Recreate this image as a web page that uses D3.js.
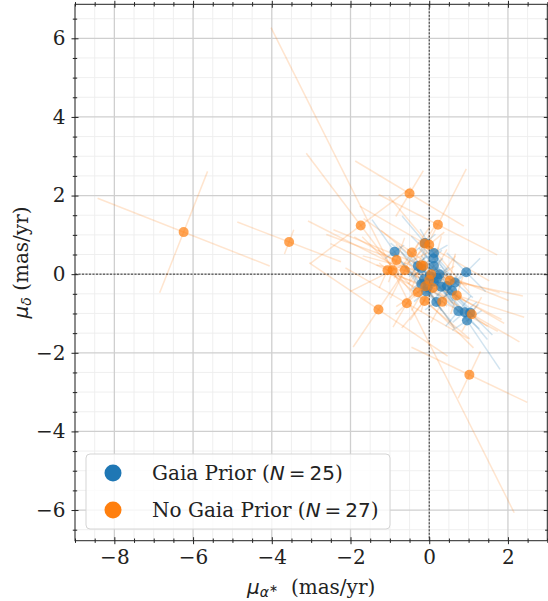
<!DOCTYPE html>
<html>
<head>
<meta charset="utf-8">
<script src="https://cdn.jsdelivr.net/npm/d3@7"></script>
<style>
  body { margin: 0; background: #fff; }
  svg { display: block; }
</style>
</head>
<body>
<svg id="chart" width="548" height="601"></svg>
<script>
// Proper motions (mas/yr) with error-ellipse principal axes:
// a = semi-major length, b = semi-minor length, ang = major-axis angle (deg, data space)
const gaiaX   = [-0.88, -0.11, 0.12, 0.11, -0.29, 0.12, 0.94, 0.26, -0.13, 0.12, 0.30, 0.65, 0.58, -0.04, -0.08, 0.18, 0.74, 0.90, 1.04, 0.96, -0.20, 0.02, 0.20, 0.45, -0.20];
const gaiaY   = [0.57, 0.79, 0.54, 0.40, 0.21, 0.21, 0.05, 0.00, -0.13, -0.19, -0.32, -0.21, -0.42, -0.33, -0.44, -0.71, -0.94, -0.97, -0.98, -1.18, 0.15, -0.05, -0.10, -0.30, -0.25];
const gaiaA   = [1.0, 0.9, 0.7, 0.8, 0.9, 0.6, 0.7, 0.8, 0.9, 0.7, 0.8, 0.6, 0.9, 0.7, 1.0, 0.8, 0.7, 0.9, 0.8, 1.5, 0.8, 0.9, 0.7, 0.8, 0.7];
const gaiaB   = [0.30, 0.35, 0.40, 0.30, 0.35, 0.30, 0.50, 0.30, 0.40, 0.30, 0.35, 0.40, 0.30, 0.30, 0.40, 0.35, 0.50, 0.40, 0.30, 0.45, 0.30, 0.35, 0.30, 0.40, 0.30];
const gaiaAng = [-55, -50, -60, -45, -40, -50, -45, -55, -50, -45, -55, -40, -50, -60, -50, -55, -40, -50, -45, -56, -45, -50, -55, -45, -50];

const noGaiaX   = [-6.24, -3.56, -1.74, -0.50, 0.22, 1.02, -1.29, -0.57, -0.12, 0.33, 1.08, 0.70, 0.52, -0.29, 0.09, -0.10, -1.06, -0.93, -0.62, -0.83, -0.44, -0.12, 0.00, -0.21, 0.05, -0.15, 0.00];
const noGaiaY   = [1.07, 0.82, 1.24, 2.05, 1.26, -2.56, -0.90, -0.74, -0.68, -0.70, -1.02, -0.54, -0.16, -0.46, -0.35, -0.31, 0.10, 0.10, 0.10, 0.36, 0.55, 0.78, 0.75, 0.23, 0.00, 0.21, -0.15];
const noGaiaA   = [2.35, 1.41, 2.30, 1.61, 1.69, 1.63, 2.12, 1.80, 1.50, 1.60, 1.40, 1.80, 1.90, 2.00, 1.70, 1.30, 1.60, 6.90, 2.76, 1.90, 1.50, 1.90, 1.60, 2.40, 1.80, 1.40, 2.20];
const noGaiaB   = [1.66, 0.33, 1.60, 0.68, 1.59, 0.66, 1.15, 0.70, 0.90, 0.60, 0.50, 0.50, 0.70, 0.80, 1.00, 0.90, 0.50, 1.20, 0.80, 0.60, 0.80, 0.60, 0.50, 0.70, 1.00, 0.60, 0.90];
const noGaiaAng = [-21.5, -21, -53, -31, -27, -25.5, -34, -30, -40, -28, -30, -18, -12, -45, -35, -55, -25, -63.4, -27, -20, -35, -30, -50, -22, -15, -40, -30];

const seriesNames = ["Gaia Prior", "No Gaia Prior"];
const seriesColors = ["#1f77b4", "#ff7f0e"];

const xMajor = [-8, -6, -4, -2, 0, 2];
const yMajor = [-6, -4, -2, 0, 2, 4, 6];
const xDomain = [-9, 3];
const yDomain = [-6.78, 6.865];

const svg = d3.select("#chart");
const L = 75, R = 547.3, T = 4.3, B = 540.7;

const x = d3.scaleLinear().domain(xDomain).range([L, R]);
const y = d3.scaleLinear().domain(yDomain).range([B, T]);

const xMinor = d3.range(-9, 3.001, 0.5).filter(v => !xMajor.includes(v));
const yMinor = d3.range(-6.5, 6.801, 0.5).filter(v => !yMajor.includes(v));

svg.append("defs").append("clipPath").attr("id", "plotclip")
  .append("rect").attr("x", L).attr("y", T).attr("width", R - L).attr("height", B - T);

// grid
const grid = svg.append("g");
grid.selectAll(".gxm").data(xMinor).join("line")
  .attr("x1", d => x(d)).attr("x2", d => x(d)).attr("y1", T).attr("y2", B)
  .attr("stroke", "#ededed").attr("stroke-width", 0.9);
grid.selectAll(".gym").data(yMinor).join("line")
  .attr("y1", d => y(d)).attr("y2", d => y(d)).attr("x1", L).attr("x2", R)
  .attr("stroke", "#ededed").attr("stroke-width", 0.9);
grid.selectAll(".gxM").data(xMajor).join("line")
  .attr("x1", d => x(d)).attr("x2", d => x(d)).attr("y1", T).attr("y2", B)
  .attr("stroke", "#cfcfcf").attr("stroke-width", 1.3);
grid.selectAll(".gyM").data(yMajor).join("line")
  .attr("y1", d => y(d)).attr("y2", d => y(d)).attr("x1", L).attr("x2", R)
  .attr("stroke", "#cfcfcf").attr("stroke-width", 1.3);

// zero reference lines
svg.append("line").attr("x1", x(0)).attr("x2", x(0)).attr("y1", T).attr("y2", B)
  .attr("stroke", "#333").attr("stroke-width", 1).attr("stroke-dasharray", "2,1.5");
svg.append("line").attr("y1", y(0)).attr("y2", y(0)).attr("x1", L).attr("x2", R)
  .attr("stroke", "#333").attr("stroke-width", 1).attr("stroke-dasharray", "2,1.5");

// build per-series records
function records(xs, ys, as, bs, angs) {
  return xs.map((v, i) => ({ x: v, y: ys[i], a: as[i], b: bs[i], ang: angs[i] * Math.PI / 180 }));
}
const series = [
  records(gaiaX, gaiaY, gaiaA, gaiaB, gaiaAng),
  records(noGaiaX, noGaiaY, noGaiaA, noGaiaB, noGaiaAng)
];

// axis segments of each error ellipse (major and minor)
function segments(d) {
  const c = Math.cos(d.ang), s = Math.sin(d.ang);
  return [
    [d.x - d.a * c, d.y - d.a * s, d.x + d.a * c, d.y + d.a * s],
    [d.x + d.b * s, d.y - d.b * c, d.x - d.b * s, d.y + d.b * c]
  ];
}

const plot = svg.append("g").attr("clip-path", "url(#plotclip)");

[1, 0].forEach(k => {
  plot.append("g").selectAll("line")
    .data(series[k].flatMap(segments)).join("line")
    .attr("x1", s => x(s[0])).attr("y1", s => y(s[1]))
    .attr("x2", s => x(s[2])).attr("y2", s => y(s[3]))
    .attr("stroke", seriesColors[k]).attr("stroke-opacity", 0.2)
    .attr("stroke-width", 1.5);
});
[0, 1].forEach(k => {
  plot.append("g").selectAll("circle")
    .data(series[k]).join("circle")
    .attr("cx", d => x(d.x)).attr("cy", d => y(d.y)).attr("r", 5)
    .attr("fill", seriesColors[k]).attr("fill-opacity", 0.7);
});

const serif = "'DejaVu Serif', serif", sans = "'DejaVu Sans', sans-serif";

// axes: ticks cross the frame (in and out)
function addAxis(gen, scale, vals, size, tx, ty, labels) {
  const g = svg.append("g").attr("transform", `translate(${tx},${ty})`)
    .call(gen(scale).tickValues(vals).tickSize(size).tickPadding(labels ? 6 : 0)
      .tickFormat(labels ? (d => d3.format("")(d).replace("-", "\u2212")) : ""));
  g.attr("font-family", null).attr("font-size", null);
  g.select(".domain").remove();
  g.selectAll(".tick line").attr("stroke", "#222").attr("stroke-width", 1);
  g.selectAll(".tick text")
    .style("font-family", serif).style("font-size", "20px").style("fill", "#222");
  return g;
}
const maj = 3.5, mnr = 2.2;
// bottom
addAxis(d3.axisBottom, x, xMajor, maj, 0, B, true).selectAll(".tick text").attr("dy", "0.71em");
addAxis(d3.axisBottom, x, xMajor, -maj, 0, B, false);
addAxis(d3.axisBottom, x, xMinor, mnr, 0, B, false);
addAxis(d3.axisBottom, x, xMinor, -mnr, 0, B, false);
// top
addAxis(d3.axisTop, x, xMajor, maj, 0, T, false);
addAxis(d3.axisTop, x, xMajor, -maj, 0, T, false);
addAxis(d3.axisTop, x, xMinor, mnr, 0, T, false);
addAxis(d3.axisTop, x, xMinor, -mnr, 0, T, false);
// left
addAxis(d3.axisLeft, y, yMajor, maj, L, 0, true);
addAxis(d3.axisLeft, y, yMajor, -maj, L, 0, false);
addAxis(d3.axisLeft, y, yMinor, mnr, L, 0, false);
addAxis(d3.axisLeft, y, yMinor, -mnr, L, 0, false);
// right
addAxis(d3.axisRight, y, yMajor, maj, R, 0, false);
addAxis(d3.axisRight, y, yMajor, -maj, R, 0, false);
addAxis(d3.axisRight, y, yMinor, mnr, R, 0, false);
addAxis(d3.axisRight, y, yMinor, -mnr, R, 0, false);

// frame
svg.append("rect").attr("x", L).attr("y", T).attr("width", R - L).attr("height", B - T)
  .attr("fill", "none").attr("stroke", "#222").attr("stroke-width", 1);

// axis labels
const xl = svg.append("text").attr("x", (L + R) / 2).attr("y", 594)
  .attr("text-anchor", "middle").style("font-size", "20px").attr("fill", "#222");
xl.append("tspan").style("font-family", sans).style("font-style", "italic").text("μ");
xl.append("tspan").style("font-family", sans).style("font-style", "italic").style("font-size", "14px").attr("dy", 3).text("α");
xl.append("tspan").style("font-family", sans).style("font-size", "11px").attr("dy", -5).text("∗");
xl.append("tspan").style("font-family", serif).attr("dy", 2).text("\u00a0\u00a0(mas/yr)");

const yl = svg.append("text").attr("transform", `translate(28,${(T + B) / 2 - 10}) rotate(-90)`)
  .attr("text-anchor", "middle").style("font-size", "20px").attr("fill", "#222");
yl.append("tspan").style("font-family", sans).style("font-style", "italic").text("μ");
yl.append("tspan").style("font-family", sans).style("font-style", "italic").style("font-size", "14px").attr("dy", 3).text("δ");
yl.append("tspan").style("font-family", serif).attr("dy", -3).text("\u00a0(mas/yr)");

// legend
const counts = [gaiaX.length, noGaiaX.length];
const lg = svg.append("g");
lg.append("rect").attr("x", 86).attr("y", 454).attr("width", 304).attr("height", 75)
  .attr("rx", 4).attr("fill", "#fff").attr("fill-opacity", 0.8)
  .attr("stroke", "#d5d5d5").attr("stroke-width", 1);
seriesNames.forEach((name, i) => {
  const cy = 473 + i * 37;
  lg.append("circle").attr("cx", 113).attr("cy", cy).attr("r", 8.5).attr("fill", seriesColors[i]);
  const t = lg.append("text").attr("x", 152).attr("y", cy + 7).style("font-size", "20px").attr("fill", "#222");
  t.append("tspan").style("font-family", serif).text(name + " (");
  t.append("tspan").style("font-family", sans).style("font-style", "italic").text("N");
  t.append("tspan").style("font-family", sans).text("\u2009=\u2009" + counts[i]);
  t.append("tspan").style("font-family", serif).text(")");
});
</script>
</body>
</html>
